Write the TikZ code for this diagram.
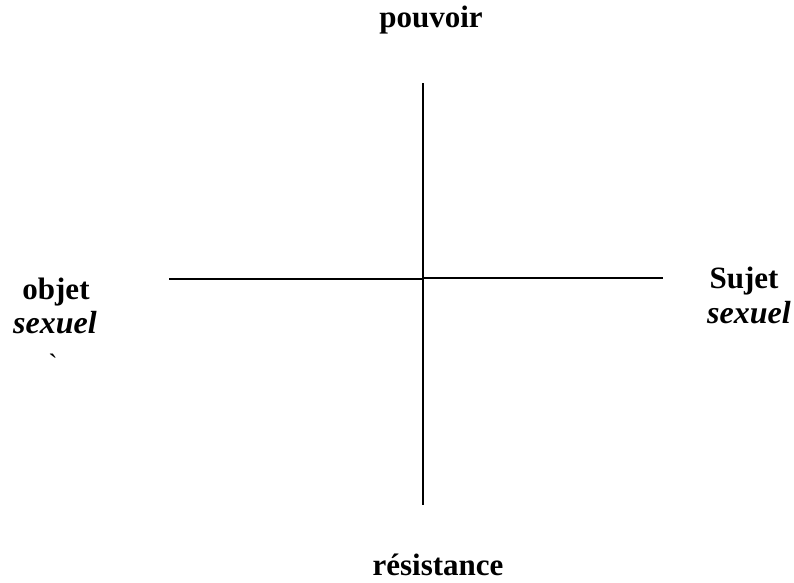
\documentclass[tikz,border=0pt]{standalone}
\usepackage{fontspec}
\setmainfont{Liberation Serif}
\usepackage{tikz}
\usetikzlibrary{positioning}

\tikzset{
	axe/.style={black, line width=1.9pt},
	etiquette/.style={font=\fontsize{31}{34}\selectfont\bfseries, anchor=base, inner sep=0pt},
	etiquetteit/.style={font=\fontsize{32}{34}\selectfont\bfseries\itshape, anchor=base, inner sep=0pt}
}

\begin{document}
\begin{tikzpicture}[x=1pt, y=-1pt]
				\useasboundingbox (0,0) rectangle (794,582);
				%
				\coordinate (haut) at (423,83);
				\coordinate (bas) at (423,505);
				\coordinate (gauche) at (169,279);
				\coordinate (centreg) at (423,279);
				\coordinate (centred) at (423,278);
				\coordinate (droite) at (663,278);
				%
				\draw [axe] (haut) -- (bas);
				\draw [axe] (gauche) -- (centreg);
				\draw [axe] (centred) -- (droite);
				%
				\node [etiquette] (pouvoir) at (431,27) {pouvoir};
				\node [etiquette] (resistance) at (438,575) {résistance};
				\node [etiquette] (objet) at (56,299) {objet};
				\node [etiquetteit] (sexuelg) at (55,333) {sexuel};
				\node [etiquette, font=\fontsize{28}{34}\selectfont] (accent) at (53,373) {\textasciigrave};
				\node [etiquette] (sujet) at (744,288) {Sujet};
				\node [etiquetteit] (sexueld) at (749,323) {sexuel};
		
			\end{tikzpicture}
\end{document}
